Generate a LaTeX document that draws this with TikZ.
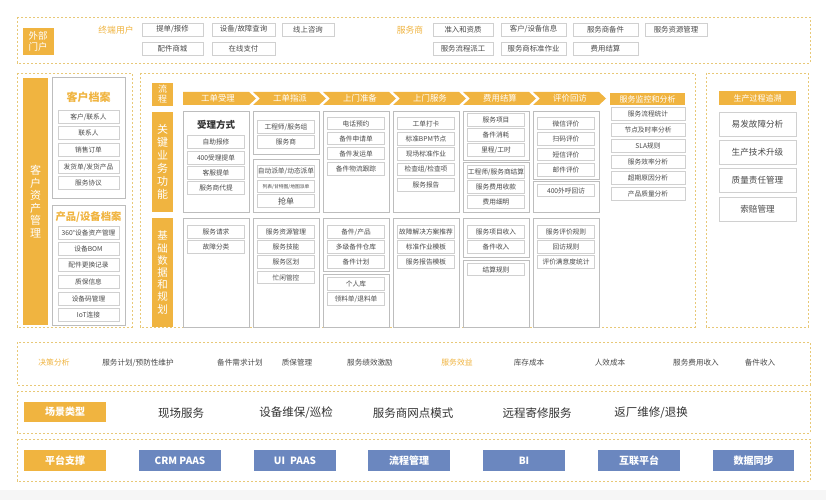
\documentclass[tikz,border=0pt]{standalone}
\usepackage{fontspec}
\setmainfont{Noto Sans CJK SC}
\definecolor{orng}{HTML}{F0B440}
\definecolor{dashc}{HTML}{E8C877}
\definecolor{blu}{HTML}{6B87BF}
\definecolor{txt}{HTML}{4A4A4A}
\definecolor{dtxt}{HTML}{333333}
\definecolor{pborder}{HTML}{BDBDBD}
\definecolor{iborder}{HTML}{D0D0D0}
\tikzset{
  dbox/.style={draw=dashc, dash pattern=on 2.2pt off 1.8pt, line width=0.7pt},
  panel/.style={draw=pborder, line width=0.7pt, fill=white, anchor=north west, inner sep=0pt},
  item/.style={draw=iborder, line width=0.6pt, fill=white, text=txt, inner sep=0pt, minimum height=12.5pt, minimum width=57pt, font=\fontsize{6.7}{7}\selectfont},
  topitem/.style={draw=iborder, line width=0.6pt, fill=white, text=txt, inner sep=0pt, minimum height=13pt, font=\fontsize{7.4}{8}\selectfont},
  bigitem/.style={draw=iborder, line width=0.6pt, fill=white, text=txt, inner sep=0pt, minimum height=24pt, minimum width=77pt, font=\fontsize{8.6}{9}\selectfont},
  obox/.style={fill=orng, text=white, inner sep=0pt, align=center},
  bbox/.style={fill=blu, text=white, inner sep=0pt, minimum height=21pt, font=\bfseries\fontsize{10}{11}\selectfont},
  otxt/.style={text=orng, inner sep=0pt, font=\fontsize{8.8}{9}\selectfont},
  dtext/.style={text=txt, inner sep=0pt, font=\fontsize{7.6}{8}\selectfont},
  stext/.style={text=dtxt, inner sep=0pt, font=\fontsize{11.5}{12}\selectfont},
  chev/.style={fill=orng},
  chevlabel/.style={text=white, inner sep=0pt, font=\fontsize{8.4}{9}\selectfont},
  ptitle/.style={text=orng, inner sep=0pt, font=\bfseries\fontsize{11}{12}\selectfont},
}
\begin{document}
\begin{tikzpicture}[x=1pt,y=-1pt]
\useasboundingbox (0,0) rectangle (826,500);
\fill[white] (0,0) rectangle (826,500);
\fill[gray!7] (0,490) rectangle (826,500);

% ---------- dashed bands ----------
\draw[dbox] (17,17) rectangle (810,63);
\draw[dbox] (17,73) rectangle (132,327);
\draw[dbox] (140,73) rectangle (695,327);
\draw[dbox] (706,73) rectangle (808,327);
\draw[dbox] (17,342) rectangle (810,385);
\draw[dbox] (17,391) rectangle (810,433);
\draw[dbox] (17,439) rectangle (810,481);

% ---------- top band ----------
\node[obox, minimum width=31pt, minimum height=27pt, font=\fontsize{9.5}{10.5}\selectfont] (portal) at (38,41.5) {外部\\门户};
\node[otxt] (enduser) at (116,30) {终端用户};
\node[topitem, minimum width=61pt] (t1) at (172.5,29.5) {提单/报修};
\node[topitem, minimum width=63pt] (t2) at (243.5,29.5) {设备/故障查询};
\node[topitem, minimum width=52pt] (t3) at (308,29.5) {线上咨询};
\node[topitem, minimum width=61pt] (t4) at (172.5,48.5) {配件商城};
\node[topitem, minimum width=63pt] (t5) at (243.5,48.5) {在线支付};
\node[otxt] (provider) at (410,30) {服务商};
\node[topitem, minimum width=60pt] (s1) at (463,29.5) {准入和资质};
\node[topitem, minimum width=65pt] (s2) at (533.5,29.5) {客户/设备信息};
\node[topitem, minimum width=65pt] (s3) at (605.5,29.5) {服务商备件};
\node[topitem, minimum width=62pt] (s4) at (676,29.5) {服务资源管理};
\node[topitem, minimum width=60pt] (s5) at (463,48.5) {服务流程派工};
\node[topitem, minimum width=65pt] (s6) at (533.5,48.5) {服务商标准作业};
\node[topitem, minimum width=65pt] (s7) at (605.5,48.5) {费用结算};

% ---------- left section ----------
\node[obox, minimum width=25pt, minimum height=247pt, font=\fontsize{11}{12.5}\selectfont] (cam) at (35.5,201.5) {客\\户\\资\\产\\管\\理};
\node[panel, minimum width=73pt, minimum height=121pt] (custp) at (52,77) {};
\node[ptitle] (custt) at (88.5,97) {客户档案};
\node[item, minimum width=61pt] (c1) at (88.5,117) {客户/联系人};
\node[item, minimum width=61pt] (c2) at (88.5,133) {联系人};
\node[item, minimum width=61pt] (c3) at (88.5,150) {销售订单};
\node[item, minimum width=61pt] (c4) at (88.5,167) {发货单/发货产品};
\node[item, minimum width=61pt] (c5) at (88.5,183) {服务协议};
\node[panel, minimum width=73pt, minimum height=120pt] (prodp) at (52,205) {};
\node[ptitle, font=\bfseries\fontsize{10.3}{11}\selectfont] (prodt) at (88.5,217) {产品/设备档案};
\node[item, minimum width=61pt] (p1) at (88.5,233) {360°设备资产管理};
\node[item, minimum width=61pt] (p2) at (88.5,249) {设备BOM};
\node[item, minimum width=61pt] (p3) at (88.5,265) {配件更换记录};
\node[item, minimum width=61pt] (p4) at (88.5,282) {质保信息};
\node[item, minimum width=61pt] (p5) at (88.5,299) {设备码管理};
\node[item, minimum width=61pt] (p6) at (88.5,315) {IoT连接};

% ---------- middle section: row labels ----------
\node[obox, minimum width=21pt, minimum height=23pt, font=\fontsize{9}{10}\selectfont] (flow) at (162.5,94.5) {流\\程};
\node[obox, minimum width=21pt, minimum height=100pt, font=\fontsize{11}{13}\selectfont] (keyf) at (162.5,162) {关\\键\\业\\务\\功\\能};
\node[obox, minimum width=21pt, minimum height=109pt, font=\fontsize{10.5}{12.2}\selectfont] (based) at (162.5,272.5) {基\\础\\数\\据\\和\\规\\划};

% chevrons
\fill[chev] (183,92) -- (249,92) -- (256,98.5) -- (249,105) -- (183,105) -- cycle;
\foreach \L in {253,323,393,463,533}{
  \fill[chev] (\L,92) -- (\L+66,92) -- (\L+73,98.5) -- (\L+66,105) -- (\L,105) -- (\L+7,98.5) -- cycle;
}
\node[chevlabel] (f1) at (218,98.5) {工单受理};
\node[chevlabel] (f2) at (290,98.5) {工单指派};
\node[chevlabel] (f3) at (360,98.5) {上门准备};
\node[chevlabel] (f4) at (430,98.5) {上门服务};
\node[chevlabel] (f5) at (500,98.5) {费用结算};
\node[chevlabel] (f6) at (570,98.5) {评价回访};
\node[obox, minimum width=75pt, minimum height=12.5pt, font=\fontsize{8}{9}\selectfont] (monh) at (647.5,99) {服务监控和分析};

% key business functions row
\node[panel, minimum width=66pt, minimum height=101pt] (k1) at (183,111) {};
\node[text=dtxt, inner sep=0pt, font=\bfseries\fontsize{9.5}{10}\selectfont] (k1t) at (216,125) {受理方式};
\node[item] (k1a) at (216,142) {自助报修};
\node[item] (k1b) at (216,158) {400受理提单};
\node[item] (k1c) at (216,173) {客服提单};
\node[item] (k1d) at (216,188) {服务商代提};

\node[panel, minimum width=66pt, minimum height=43pt] (k2u) at (253,111) {};
\node[item] (k2a) at (286,127) {工程师/服务组};
\node[item] (k2b) at (286,142) {服务商};
\node[panel, minimum width=66pt, minimum height=53pt] (k2l) at (253,159) {};
\node[item] (k2c) at (286,171.5) {自动派单/动态派单};
\node[item, font=\fontsize{4.8}{5}\selectfont] (k2d) at (286,186.5) {列表/甘特图/地图派单};
\node[item, font=\fontsize{8}{9}\selectfont] (k2e) at (286,201) {抢单};

\node[panel, minimum width=66pt, minimum height=101pt] (k3) at (323,111) {};
\node[item] (k3a) at (356,123.5) {电话预约};
\node[item] (k3b) at (356,138.5) {备件申请单};
\node[item] (k3c) at (356,153.5) {备件发运单};
\node[item] (k3d) at (356,169) {备件物流跟踪};

\node[panel, minimum width=66pt, minimum height=101pt] (k4) at (393,111) {};
\node[item] (k4a) at (426,123.5) {工单打卡};
\node[item] (k4b) at (426,139) {标准BPM节点};
\node[item] (k4c) at (426,154) {现场标准作业};
\node[item] (k4d) at (426,169.5) {检查组/检查项};
\node[item] (k4e) at (426,185) {服务报告};

\node[panel, minimum width=66pt, minimum height=49pt] (k5u) at (463,111) {};
\node[item] (k5a) at (496,120) {服务项目};
\node[item] (k5b) at (496,135) {备件消耗};
\node[item] (k5c) at (496,150) {里程/工时};
\node[panel, minimum width=66pt, minimum height=50pt] (k5l) at (463,162) {};
\node[item] (k5d) at (496,172) {工程师/服务商结算};
\node[item] (k5e) at (496,187) {服务费用收款};
\node[item] (k5f) at (496,202) {费用细明};

\node[panel, minimum width=66pt, minimum height=68pt] (k6u) at (533,111) {};
\node[item] (k6a) at (566,123.5) {微信评价};
\node[item] (k6b) at (566,139) {扫码评价};
\node[item] (k6c) at (566,154.5) {短信评价};
\node[item] (k6d) at (566,170) {邮件评价};
\node[panel, minimum width=66pt, minimum height=31pt] (k6l) at (533,181) {};
\node[item] (k6e) at (566,190.5) {400外呼回访};

% monitoring column
\node[item, minimum width=74pt] (m1) at (648,114) {服务流程统计};
\node[item, minimum width=74pt] (m2) at (648,130) {节点及时率分析};
\node[item, minimum width=74pt] (m3) at (648,146) {SLA规则};
\node[item, minimum width=74pt] (m4) at (648,162) {服务效率分析};
\node[item, minimum width=74pt] (m5) at (648,178) {超期原因分析};
\node[item, minimum width=74pt] (m6) at (648,194) {产品质量分析};

% base data row
\node[panel, minimum width=66pt, minimum height=109pt] (b1) at (183,218) {};
\node[item] (b1a) at (216,232) {服务请求};
\node[item] (b1b) at (216,247) {故障分类};

\node[panel, minimum width=66pt, minimum height=109pt] (b2) at (253,218) {};
\node[item] (b2a) at (286,232) {服务资源管理};
\node[item] (b2b) at (286,247) {服务技能};
\node[item] (b2c) at (286,262) {服务区划};
\node[item] (b2d) at (286,277.5) {忙闲管控};

\node[panel, minimum width=66pt, minimum height=53pt] (b3u) at (323,218) {};
\node[item] (b3a) at (356,232) {备件/产品};
\node[item] (b3b) at (356,247) {多级备件仓库};
\node[item] (b3c) at (356,262) {备件计划};
\node[panel, minimum width=66pt, minimum height=53pt] (b3l) at (323,274) {};
\node[item] (b3d) at (356,284) {个人库};
\node[item] (b3e) at (356,299) {领料单/退料单};

\node[panel, minimum width=66pt, minimum height=109pt] (b4) at (393,218) {};
\node[item] (b4a) at (426,232) {故障解决方案推荐};
\node[item] (b4b) at (426,247) {标准作业模板};
\node[item] (b4c) at (426,262) {服务报告模板};

\node[panel, minimum width=66pt, minimum height=39pt] (b5u) at (463,218) {};
\node[item] (b5a) at (496,232) {服务项目收入};
\node[item] (b5b) at (496,247) {备件收入};
\node[panel, minimum width=66pt, minimum height=67pt] (b5l) at (463,260) {};
\node[item] (b5c) at (496,269.5) {结算规则};

\node[panel, minimum width=66pt, minimum height=109pt] (b6) at (533,218) {};
\node[item] (b6a) at (566,232) {服务评价规则};
\node[item] (b6b) at (566,247) {回访规则};
\node[item] (b6c) at (566,262) {评价满意度统计};

% ---------- right section ----------
\node[obox, minimum width=77pt, minimum height=14pt, font=\fontsize{8}{9}\selectfont] (trace) at (757.5,98) {生产过程追溯};
\node[bigitem] (r1) at (757.5,124) {易发故障分析};
\node[bigitem] (r2) at (757.5,152.5) {生产技术升级};
\node[bigitem] (r3) at (757.5,180.5) {质量责任管理};
\node[bigitem] (r4) at (757.5,209.5) {索赔管理};

% ---------- decision band ----------
\node[otxt, font=\fontsize{7.8}{8}\selectfont] (dec) at (54,363) {决策分析};
\node[dtext] (d1) at (138,363) {服务计划/预防性维护};
\node[dtext] (d2) at (240,363) {备件需求计划};
\node[dtext] (d3) at (297,363) {质保管理};
\node[dtext] (d4) at (370,363) {服务绩效激励};
\node[otxt, font=\fontsize{7.8}{8}\selectfont] (ben) at (457,363) {服务效益};
\node[dtext] (d5) at (529,363) {库存成本};
\node[dtext] (d6) at (610,363) {人效成本};
\node[dtext] (d7) at (696,363) {服务费用收入};
\node[dtext] (d8) at (760,363) {备件收入};

% ---------- scene band ----------
\node[obox, minimum width=82pt, minimum height=20pt, font=\bfseries\fontsize{10}{11}\selectfont] (scene) at (65,412) {场景类型};
\node[stext] (sc1) at (181,413) {现场服务};
\node[stext] (sc2) at (296,413) {设备维保/巡检};
\node[stext] (sc3) at (413,413) {服务商网点模式};
\node[stext] (sc4) at (537,413) {远程寄修服务};
\node[stext] (sc5) at (651,413) {返厂维修/退换};

% ---------- platform band ----------
\node[obox, minimum width=82pt, minimum height=21pt, font=\bfseries\fontsize{10}{11}\selectfont] (plat) at (65,460.5) {平台支撑};
\node[bbox, minimum width=82pt] (pl1) at (180,460.5) {CRM PAAS};
\node[bbox, minimum width=82pt] (pl2) at (295,460.5) {UI\enspace PAAS};
\node[bbox, minimum width=82pt] (pl3) at (409,460.5) {流程管理};
\node[bbox, minimum width=82pt] (pl4) at (524,460.5) {BI};
\node[bbox, minimum width=82pt] (pl5) at (639,460.5) {互联平台};
\node[bbox, minimum width=81pt] (pl6) at (753.5,460.5) {数据同步};
\end{tikzpicture}
\end{document}
